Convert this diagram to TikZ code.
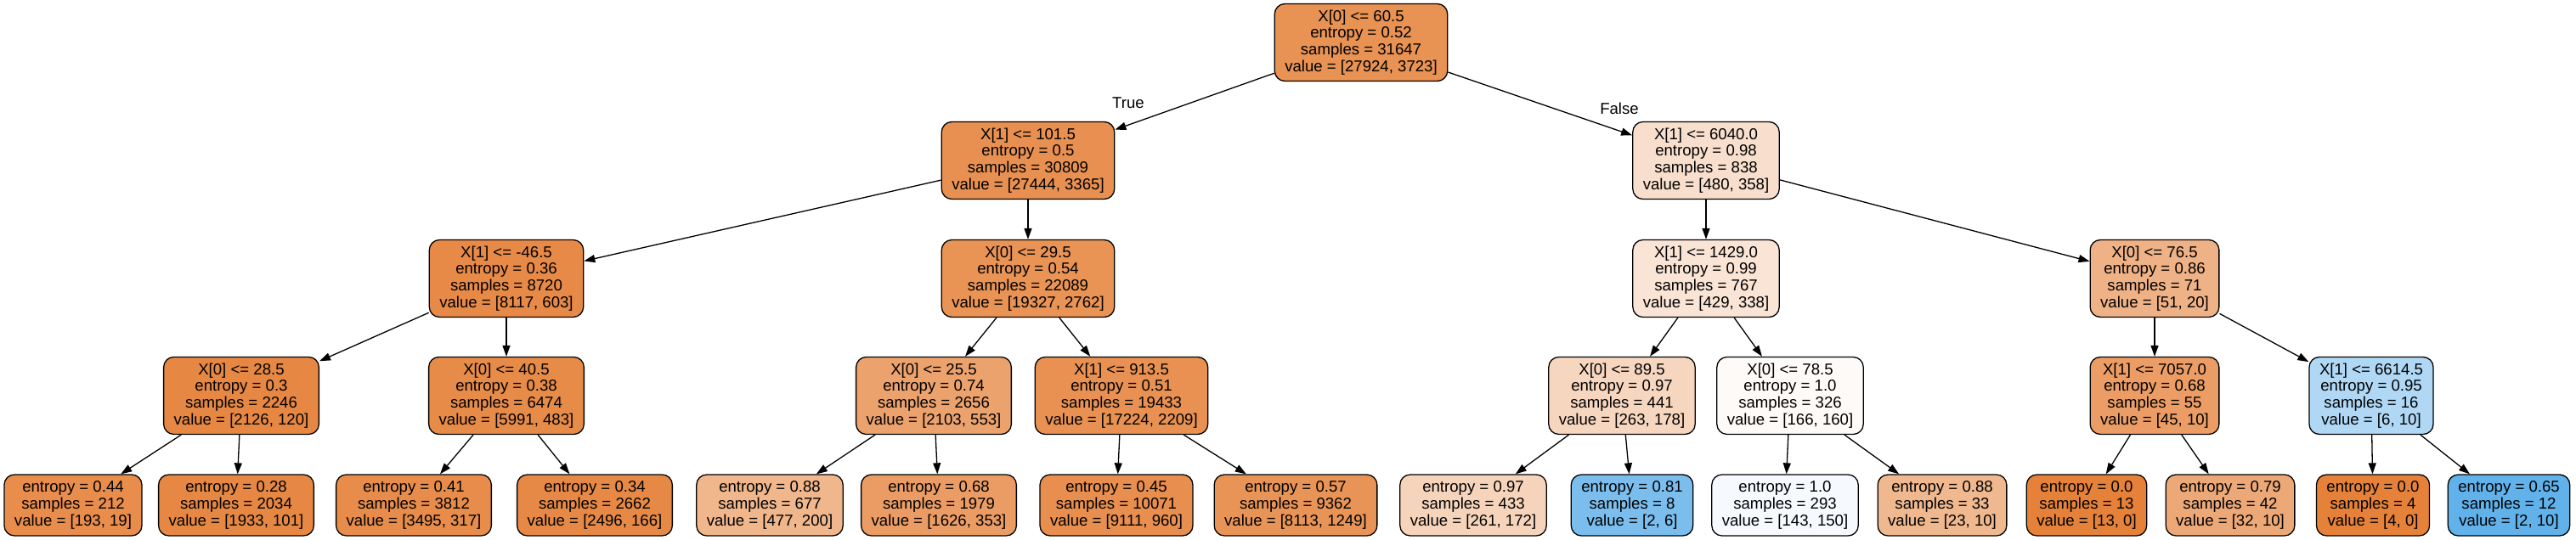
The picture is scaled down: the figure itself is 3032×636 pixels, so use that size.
\documentclass[tikz,border=0pt]{standalone}
\usepackage{fontspec}
\setmainfont{Liberation Sans}
\usetikzlibrary{arrows.meta}
\definecolor{org}{RGB}{229,129,57}
\definecolor{blu}{RGB}{57,157,229}
\tikzset{
  tn/.style={draw=black, line width=1.3pt, rounded corners=12pt, align=center,
    inner xsep=12pt, inner ysep=0pt, minimum height=91pt,
    font=\fontsize{18.6}{19.8}\selectfont},
  lf/.style={tn, minimum height=72pt},
  edge/.style={draw=black, line width=1.3pt, -{Triangle[length=13pt,width=9pt]}},
  elab/.style={font=\fontsize{18.6}{19.8}\selectfont, inner sep=0pt}
}
\begin{document}
\begin{tikzpicture}[x=1pt,y=-1pt]
\useasboundingbox (0,0) rectangle (3032,636);
% level 0
\node[tn, fill=org!86.7!white] (r) at (1602,50) {X[0] <= 60.5\\entropy = 0.52\\samples = 31647\\value = [27924, 3723]};
% level 1
\node[tn, fill=org!87.7!white] (a) at (1210,189) {X[1] <= 101.5\\entropy = 0.5\\samples = 30809\\value = [27444, 3365]};
\node[tn, fill=org!25.4!white] (b) at (2008,189) {X[1] <= 6040.0\\entropy = 0.98\\samples = 838\\value = [480, 358]};
% level 2
\node[tn, fill=org!92.6!white] (aa) at (596,328) {X[1] <= -46.5\\entropy = 0.36\\samples = 8720\\value = [8117, 603]};
\node[tn, fill=org!85.7!white] (ab) at (1210,328) {X[0] <= 29.5\\entropy = 0.54\\samples = 22089\\value = [19327, 2762]};
\node[tn, fill=org!21.2!white] (ba) at (2008,328) {X[1] <= 1429.0\\entropy = 0.99\\samples = 767\\value = [429, 338]};
\node[tn, fill=org!60.8!white] (bb) at (2536,328) {X[0] <= 76.5\\entropy = 0.86\\samples = 71\\value = [51, 20]};
% level 3
\node[tn, fill=org!94.4!white] (aaa) at (284,466) {X[0] <= 28.5\\entropy = 0.3\\samples = 2246\\value = [2126, 120]};
\node[tn, fill=org!91.9!white] (aab) at (596,466) {X[0] <= 40.5\\entropy = 0.38\\samples = 6474\\value = [5991, 483]};
\node[tn, fill=org!73.7!white] (aba) at (1099,466) {X[0] <= 25.5\\entropy = 0.74\\samples = 2656\\value = [2103, 553]};
\node[tn, fill=org!87.2!white] (abb) at (1320,466) {X[1] <= 913.5\\entropy = 0.51\\samples = 19433\\value = [17224, 2209]};
\node[tn, fill=org!32.3!white] (baa) at (1909,466) {X[0] <= 89.5\\entropy = 0.97\\samples = 441\\value = [263, 178]};
\node[tn, fill=org!3.6!white] (bab) at (2107,466) {X[0] <= 78.5\\entropy = 1.0\\samples = 326\\value = [166, 160]};
\node[tn, fill=org!77.8!white] (bba) at (2536,466) {X[1] <= 7057.0\\entropy = 0.68\\samples = 55\\value = [45, 10]};
\node[tn, fill=blu!40!white] (bbb) at (2791,466) {X[1] <= 6614.5\\entropy = 0.95\\samples = 16\\value = [6, 10]};
% leaves
\node[lf, fill=org!90.2!white] (l1) at (86,595) {entropy = 0.44\\samples = 212\\value = [193, 19]};
\node[lf, fill=org!94.8!white] (l2) at (278,595) {entropy = 0.28\\samples = 2034\\value = [1933, 101]};
\node[lf, fill=org!90.9!white] (l3) at (487,595) {entropy = 0.41\\samples = 3812\\value = [3495, 317]};
\node[lf, fill=org!93.3!white] (l4) at (700,595) {entropy = 0.34\\samples = 2662\\value = [2496, 166]};
\node[lf, fill=org!58.1!white] (l5) at (906,595) {entropy = 0.88\\samples = 677\\value = [477, 200]};
\node[lf, fill=org!78.3!white] (l6) at (1105,595) {entropy = 0.68\\samples = 1979\\value = [1626, 353]};
\node[lf, fill=org!89.5!white] (l7) at (1314,595) {entropy = 0.45\\samples = 10071\\value = [9111, 960]};
\node[lf, fill=org!84.6!white] (l8) at (1525,595) {entropy = 0.57\\samples = 9362\\value = [8113, 1249]};
\node[lf, fill=org!34.1!white] (l9) at (1734,595) {entropy = 0.97\\samples = 433\\value = [261, 172]};
\node[lf, fill=blu!66.7!white] (l10) at (1921,595) {entropy = 0.81\\samples = 8\\value = [2, 6]};
\node[lf, fill=blu!4.7!white] (l11) at (2101,595) {entropy = 1.0\\samples = 293\\value = [143, 150]};
\node[lf, fill=org!56.5!white] (l12) at (2286,595) {entropy = 0.88\\samples = 33\\value = [23, 10]};
\node[lf, fill=org!100!white] (l13) at (2456,595) {entropy = 0.0\\samples = 13\\value = [13, 0]};
\node[lf, fill=org!68.8!white] (l14) at (2625,595) {entropy = 0.79\\samples = 42\\value = [32, 10]};
\node[lf, fill=org!100!white] (l15) at (2793,595) {entropy = 0.0\\samples = 4\\value = [4, 0]};
\node[lf, fill=blu!80!white] (l16) at (2953,595) {entropy = 0.65\\samples = 12\\value = [2, 10]};
% edge labels
\node[elab] (tl) at (1328,121) {True};
\node[elab] (fl) at (1906,128) {False};
% edges
\draw[edge] (r) -- (a);
\draw[edge] (r) -- (b);
\draw[edge] (a) -- (aa);
\draw[edge] (a) -- (ab);
\draw[edge] (b) -- (ba);
\draw[edge] (b) -- (bb);
\draw[edge] (aa) -- (aaa);
\draw[edge] (aa) -- (aab);
\draw[edge] (ab) -- (aba);
\draw[edge] (ab) -- (abb);
\draw[edge] (ba) -- (baa);
\draw[edge] (ba) -- (bab);
\draw[edge] (bb) -- (bba);
\draw[edge] (bb) -- (bbb);
\draw[edge] (aaa) -- (l1);
\draw[edge] (aaa) -- (l2);
\draw[edge] (aab) -- (l3);
\draw[edge] (aab) -- (l4);
\draw[edge] (aba) -- (l5);
\draw[edge] (aba) -- (l6);
\draw[edge] (abb) -- (l7);
\draw[edge] (abb) -- (l8);
\draw[edge] (baa) -- (l9);
\draw[edge] (baa) -- (l10);
\draw[edge] (bab) -- (l11);
\draw[edge] (bab) -- (l12);
\draw[edge] (bba) -- (l13);
\draw[edge] (bba) -- (l14);
\draw[edge] (bbb) -- (l15);
\draw[edge] (bbb) -- (l16);
\end{tikzpicture}
\end{document}
